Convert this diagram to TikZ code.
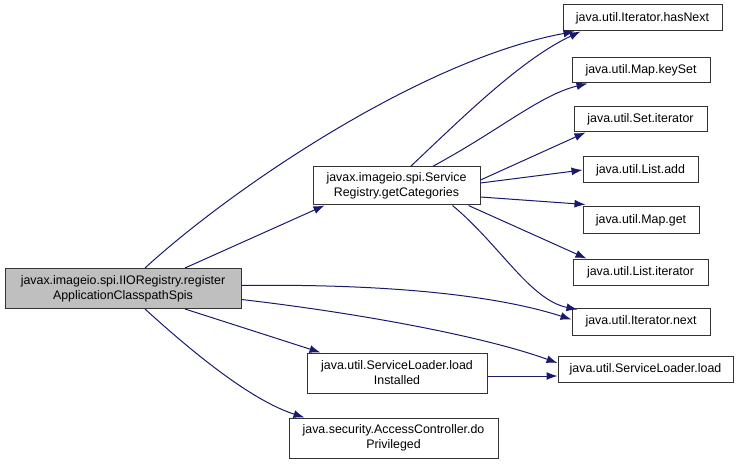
\documentclass[tikz,border=0pt]{standalone}
\usepackage{fontspec}
\setmainfont{Liberation Sans}
\usetikzlibrary{arrows.meta}
\definecolor{edgec}{HTML}{191970}
\tikzset{
  fn/.style={draw=black!80, line width=1pt, fill=white, rectangle, inner sep=0pt, align=center, font=\fontsize{12.4}{15}\selectfont},
  mainfn/.style={fn, fill=black!25},
  call/.style={draw=edgec, line width=1pt, -{Latex[length=11pt,width=8pt]}},
}
\begin{document}
\begin{tikzpicture}[x=1pt,y=-1pt]
\useasboundingbox (0,0) rectangle (736,465);
\node[mainfn, minimum width=236pt, minimum height=40pt] (main) at (123,288.5) {javax.imageio.spi.IIORegistry.register\\ApplicationClasspathSpis};
\node[fn, minimum width=167pt, minimum height=38pt] (cat) at (396.5,186) {javax.imageio.spi.Service\\Registry.getCategories};
\node[fn, minimum width=159pt, minimum height=26pt] (hasnext) at (642.5,18) {java.util.Iterator.hasNext};
\node[fn, minimum width=138pt, minimum height=25pt] (keyset) at (641,70.5) {java.util.Map.keySet};
\node[fn, minimum width=133pt, minimum height=25pt] (setit) at (640.5,119.5) {java.util.Set.iterator};
\node[fn, minimum width=115pt, minimum height=26pt] (listadd) at (640.5,170) {java.util.List.add};
\node[fn, minimum width=116pt, minimum height=26pt] (mapget) at (641,220) {java.util.Map.get};
\node[fn, minimum width=135pt, minimum height=26pt] (listit) at (640.5,272) {java.util.List.iterator};
\node[fn, minimum width=138pt, minimum height=27pt] (next) at (641,321.5) {java.util.Iterator.next};
\node[fn, minimum width=175pt, minimum height=26pt] (slload) at (645.5,369) {java.util.ServiceLoader.load};
\node[fn, minimum width=180pt, minimum height=40pt] (loadinst) at (397,373) {java.util.ServiceLoader.load\\Installed};
\node[fn, minimum width=209pt, minimum height=40pt] (dopriv) at (393.5,438) {java.security.AccessController.do\\Privileged};

% main edges
\draw[call] ([xshift=22pt]main.north) .. controls (230,190) and (420,60) .. ([xshift=12pt]hasnext.south west);
\draw[call] ([xshift=62pt]main.north) -- ([xshift=12pt]cat.south west);
\draw[call] ([yshift=3pt]main.east) .. controls (350,284) and (480,290) .. ([yshift=2pt]next.west);
\draw[call] ([yshift=-11pt]main.east) .. controls (350,312) and (480,335) .. ([yshift=6pt]slload.west);
\draw[call] ([xshift=62pt]main.south) -- ([xshift=14pt]loadinst.north west);
\draw[call] ([xshift=22pt]main.south) .. controls (190,350) and (250,400) .. ([xshift=16pt]dopriv.north west);
\draw[call] ([yshift=-3pt]loadinst.east) -- ([yshift=-3pt]loadinst.east -| slload.west);

% getCategories edges
\draw[call] ([xshift=14pt]cat.north) .. controls (460,120) and (520,60) .. ([xshift=18pt]hasnext.south west);
\draw[call] ([xshift=36pt]cat.north) .. controls (500,130) and (540,95) .. ([xshift=16pt]keyset.south west);
\draw[call] ([yshift=6pt]cat.east) -- ([xshift=12pt]setit.south west);
\draw[call] ([yshift=3pt]cat.east) -- (listadd.west);
\draw[call] ([yshift=-11pt]cat.east) -- ([xshift=3pt,yshift=2pt]mapget.north west);
\draw[call] ([xshift=-12pt]cat.south east) -- ([xshift=14pt]listit.north west);
\draw[call] ([xshift=-28pt]cat.south east) .. controls (500,245) and (530,300) .. ([xshift=6pt,yshift=-2pt]next.north west);
\end{tikzpicture}
\end{document}
